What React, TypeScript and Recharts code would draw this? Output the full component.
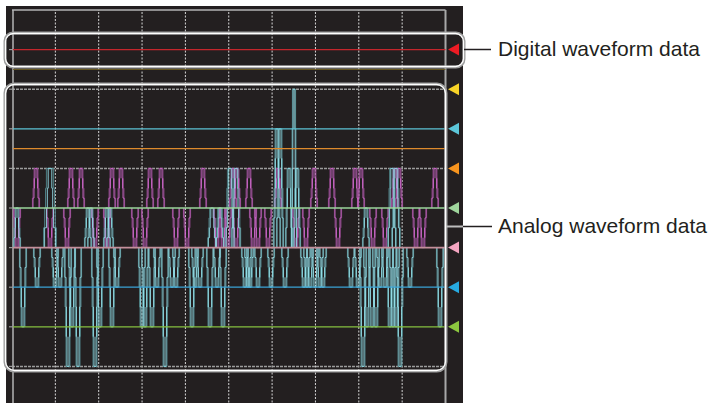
import React from 'react';
import { ComposedChart, Line, XAxis, YAxis, ReferenceLine, Scatter } from 'recharts';

// time axis: 10 divisions, samples per division
const X_DIV = 43.35;
const X_MAX = 10 * X_DIV;

// channel baselines (vertical divisions, 0 = bottom of screen, 10 = top)
const BASE_CHANNELS = ['yellow', 'red', 'cyan', 'orange', 'mint', 'pink', 'blue', 'green'];
const BASE_LEVELS = [8.5, 9, 7, 6.5, 5, 4, 3, 2];

// position markers on the right edge
const MARKER_CHANNELS = ['red', 'yellow', 'cyan', 'orange', 'mint', 'pink', 'blue', 'green'];
const MARKER_LEVELS = [9, 8, 7, 6, 5, 4, 3, 2];

const GRID_X = [1, 2, 3, 4, 5, 6, 7, 8, 9];
const GRID_Y = [1, 6, 8];
const LEFT_TICKS = [1, 2, 3, 4, 5, 6, 7, 8, 9];

// magenta trace: rests on 5 div, pulses up to 6 or down to 4
const MAG_BASE = 5;
const MAG_T = [5, 24, 38, 55, 59, 69, 83, 95, 100, 109, 123, 133, 138, 149, 164, 175, 191, 205, 211, 216, 221, 224, 225, 237, 241, 246, 256, 266, 284, 294, 302, 320, 326, 343, 349, 361, 373, 383, 387, 404, 411, 423];
const MAG_LEVEL = [4, 6, 4, 4, 6, 6, 4, 4, 6, 6, 4, 4, 6, 6, 4, 4, 6, 4, 4, 4, 6, 4, 6, 6, 4, 4, 4, 6, 4, 4, 6, 6, 4, 6, 6, 4, 4, 6, 6, 4, 4, 6];

// cyan trace: rests on 4 div
const CYAN_BASE = 4;
const CYAN_T = [5, 11, 25, 38, 43, 48, 56, 60, 66, 76, 79, 83, 88, 95, 98, 100, 105, 130, 133, 140, 145, 153, 160, 164, 180, 183, 188, 198, 200, 205, 208, 211, 218, 224, 233, 236, 238, 246, 259, 265, 268, 273, 277, 282, 285, 292, 295, 298, 303, 308, 311, 339, 346, 351, 354, 355, 360, 364, 368, 373, 378, 380, 381, 384, 384, 388, 398, 428];
const CYAN_LEVEL = [5, 2, 3, 6, 3, 3, 1, 2, 1, 5, 5, 1, 2, 5, 5, 2, 3, 2, 2, 2, 3, 1, 3, 3, 2, 3, 3, 2, 5, 3, 5, 2, 6, 6, 3, 3, 3, 3, 3, 7, 7, 3, 6, 8, 6, 3, 3, 3, 3, 3, 3, 3, 3, 1, 5, 2, 2, 2, 3, 3, 2, 6, 2, 6, 2, 1, 3, 2];
const CYAN_WIDTH = [1, 1, 1, 1.8, 1, 1, 1, 1, 1, 1, 1, 1, 1, 1, 1, 1, 1, 1, 1, 1, 1, 1, 1, 1, 1, 1, 1, 1, 1.2, 1, 1.2, 1, 1.3, 1.3, 1, 1, 1, 1, 1, 1, 1, 1, 1, 0.8, 1, 1, 1, 1, 1, 1, 1, 1, 1, 1, 1, 1, 1, 1, 1, 1, 1, 1.2, 1, 1.2, 1, 1, 1, 1];

// staircase edges seen on every pulse (persistence of several sweeps)
const STEP_FRACS = [0.25, 0.5, 0.75, 1];
const HALF_WIDE = [3.6, 3.0, 2.5, 2.0];
const HALF_NARROW = [3.0, 2.0, 1.5, 1.0];

const COLORS: Record<string, string> = {
  red: '#c4262c',
  yellow: '#6f6024',
  cyan: '#5cc3d4',
  orange: '#de8a2c',
  mint: '#9ad49a',
  pink: '#c48f9b',
  blue: '#3aa3d6',
  green: '#86c03f',
};
const MARKER_COLORS: Record<string, string> = {
  red: '#ed1c24',
  yellow: '#f7d327',
  cyan: '#5cc6d9',
  orange: '#f7941e',
  mint: '#9fd59c',
  pink: '#f4a5c1',
  blue: '#27aae1',
  green: '#8cc63f',
};

type Pt = { t: number; v: number | null };

function pulses(centers: number[], targets: number[], base: number, half: number[], widths?: number[]): Pt[] {
  const out: Pt[] = [];
  centers.forEach((c, i) => {
    const k = widths ? widths[i] : 1;
    const hw = half.map((h) => h * k);
    const lv = STEP_FRACS.map((f) => base + f * (targets[i] - base));
    out.push(
      { t: c - hw[0], v: base },
      { t: c - hw[0], v: lv[0] },
      { t: c - hw[1], v: lv[1] },
      { t: c - hw[2], v: lv[2] },
      { t: c - hw[3], v: lv[3] },
      { t: c + hw[3], v: lv[2] },
      { t: c + hw[2], v: lv[1] },
      { t: c + hw[1], v: lv[0] },
      { t: c + hw[0], v: base },
      { t: c + hw[0], v: null },
    );
  });
  return out;
}

const magDim = pulses(MAG_T, MAG_LEVEL, MAG_BASE, HALF_WIDE);
const magBright = pulses(MAG_T, MAG_LEVEL, MAG_BASE, HALF_NARROW);
const cyanDim = pulses(CYAN_T, CYAN_LEVEL, CYAN_BASE, HALF_WIDE, CYAN_WIDTH);
const cyanBright = pulses(CYAN_T, CYAN_LEVEL, CYAN_BASE, HALF_NARROW, CYAN_WIDTH);

const markers = MARKER_CHANNELS.map((ch, i) => ({ t: X_MAX, v: MARKER_LEVELS[i], ch }));
const leftTicks = LEFT_TICKS.map((v) => ({ t: 0, v }));

const Triangle = (p: any) => (
  <path
    d={`M${p.cx + 2.5},${p.cy} L${p.cx + 13.5},${p.cy - 6} L${p.cx + 13.5},${p.cy + 6} Z`}
    fill={MARKER_COLORS[p.payload.ch]}
  />
);
const Tick = (p: any) => (
  <line x1={p.cx - 3} x2={p.cx + 1} y1={p.cy} y2={p.cy} stroke="#9a9a9a" strokeWidth={1.2} />
);

const font = '"Liberation Sans", Arial, Helvetica, sans-serif';

export default function App() {
  return (
    <div style={{ position: 'absolute', left: 0, top: 0, width: 715, height: 403, overflow: 'hidden', background: '#fff' }}>
      <div style={{ position: 'absolute', left: 6, top: 6, width: 457, height: 397, background: '#231f20' }} />
      <div style={{ position: 'absolute', left: 0, top: 0 }}>
        <ComposedChart width={715} height={420} margin={{ top: 10, right: 269.5, bottom: 14, left: 12 }}>
          <XAxis type="number" dataKey="t" domain={[0, X_MAX]} hide />
          <YAxis type="number" dataKey="v" domain={[0, 10]} hide />
          {GRID_X.map((k) => (
            <ReferenceLine key={`gx${k}`} x={k * X_DIV} stroke="#d6d6d6" strokeDasharray="2 1.5" strokeWidth={1} />
          ))}
          {GRID_Y.map((k) => (
            <ReferenceLine key={`gy${k}`} y={k} stroke="#9c9c9c" strokeDasharray="3 1" strokeWidth={1.5} />
          ))}
          <ReferenceLine y={10} stroke="#b4b4b4" strokeWidth={1.5} />
          <ReferenceLine x={1} stroke="#b4b4b4" strokeWidth={1.5} />
          <ReferenceLine x={X_MAX} stroke="#a8a8a8" strokeWidth={2} />

          <Line data={magDim} dataKey="v" type="stepAfter" stroke="#7c3f76" strokeWidth={1} dot={false} activeDot={false} isAnimationActive={false} />
          <Line data={cyanDim} dataKey="v" type="stepAfter" stroke="#4c7d81" strokeWidth={1} dot={false} activeDot={false} isAnimationActive={false} />
          <Line data={magBright} dataKey="v" type="stepAfter" stroke="#cf6acd" strokeWidth={0.9} dot={false} activeDot={false} isAnimationActive={false} />
          <Line data={cyanBright} dataKey="v" type="stepAfter" stroke="#93dde6" strokeWidth={0.9} dot={false} activeDot={false} isAnimationActive={false} />

          {BASE_CHANNELS.map((ch, i) => (
            <Line
              key={ch}
              data={[{ t: 1, v: BASE_LEVELS[i] }, { t: X_MAX, v: BASE_LEVELS[i] }]}
              dataKey="v"
              stroke={COLORS[ch]}
              strokeWidth={ch === 'pink' ? 1.7 : ch === 'yellow' ? 1 : 1.3}
              dot={false}
              activeDot={false}
              isAnimationActive={false}
            />
          ))}

          <Scatter data={leftTicks} shape={Tick} isAnimationActive={false} />
          <Scatter data={markers} shape={Triangle} isAnimationActive={false} />
        </ComposedChart>
      </div>
      <svg width={715} height={403} style={{ position: 'absolute', left: 0, top: 0, pointerEvents: 'none' }}>
        {/* callout frames */}
        <rect x={5} y={33} width={459} height={34} rx={8} fill="none" stroke="#9d9d9d" strokeWidth={3} />
        <rect x={5.5} y={33.5} width={458} height={33} rx={8} fill="none" stroke="#ffffff" strokeWidth={1.3} />
        <rect x={5} y={84} width={441} height={287} rx={9} fill="none" stroke="#9d9d9d" strokeWidth={3} />
        <rect x={5.5} y={84.5} width={440} height={286} rx={9} fill="none" stroke="#ffffff" strokeWidth={1.3} />

        {/* leader lines */}
        <line x1={464} x2={491} y1={49.5} y2={49.5} stroke="#231f20" strokeWidth={1.5} />
        <line x1={446} x2={463} y1={226.5} y2={226.5} stroke="#bdbdbd" strokeWidth={2} />
        <line x1={463} x2={492} y1={226.5} y2={226.5} stroke="#231f20" strokeWidth={1.5} />

        <text x={498} y={50} dominantBaseline="middle" fontFamily={font} fontSize={21} fill="#231f20">
          Digital waveform data
        </text>
        <text x={498} y={227} dominantBaseline="middle" fontFamily={font} fontSize={21} fill="#231f20">
          Analog waveform data
        </text>
      </svg>
    </div>
  );
}
